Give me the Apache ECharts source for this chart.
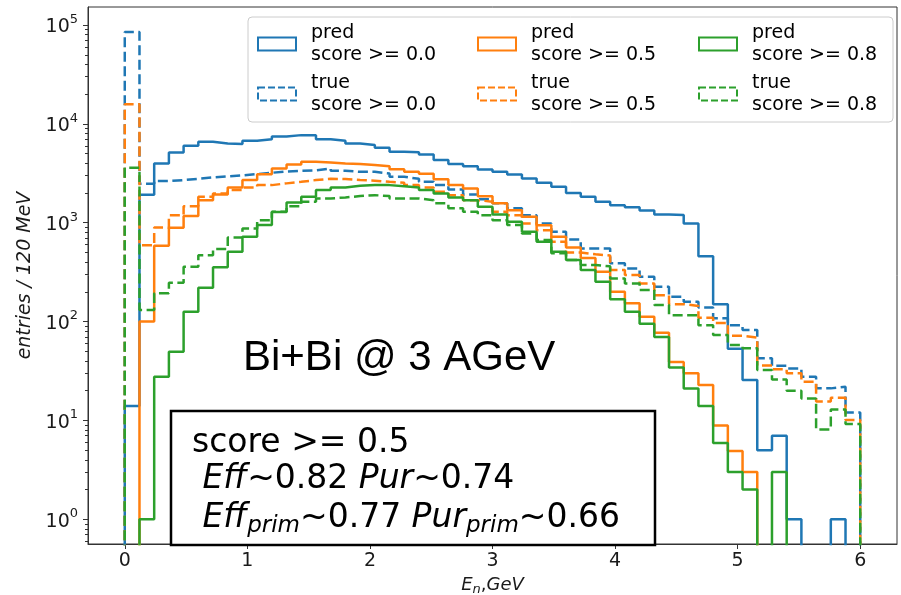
<!DOCTYPE html>
<html><head><meta charset="utf-8">
<script src="https://cdn.jsdelivr.net/npm/echarts@6/dist/echarts.min.js"></script>
<style>html,body{margin:0;padding:0;background:#fff}#c{width:901px;height:595px}</style>
</head><body><div id="c"></div>
<script>
// ---- data: 50 bins of 120 MeV from 0 to 6 GeV ----
const binWidth = 0.12;
const predScore00 = [14,1920,3980,5120,6000,6600,6330,6240,6740,6980,7450,7690,7690,7000,6740,6330,6100,5720,5210,5150,4900,4300,3920,3730,3460,3270,3080,2800,2540,2310,2000,1830,1630,1500,1430,1330,1210,1200,980,459,150,53,25.6,5,7,1,0,0,1,0];
const trueScore00 = [85100,2480,2640,2700,2780,2870,2940,3010,3100,3200,3300,3350,3390,3540,3350,3270,3270,3150,2910,2780,2590,2400,2170,1930,1730,1570,1400,1190,984,809,678,550,550,388,345,284,225,178,159,139,108,92,82,42.5,35.7,33.6,27.7,21.1,21.9,12];
const predScore05 = [0,100,585,890,1170,1690,1930,2270,2700,3100,3540,3880,4130,4070,3980,3920,3830,3730,3480,3270,3120,2750,2400,2220,1850,1570,1340,1150,940,720,560,440,319,200,153,112,77,39,30,22.8,8.9,4.9,3,0,0,0,0,0,0,0];
const trueScore05 = [15800,590,896,1190,1470,1830,1980,2140,2270,2400,2500,2590,2700,2780,2760,2700,2660,2590,2530,2400,2270,2060,1900,1690,1630,1290,1190,984,841,640,500,480,465,332,295,243,185,150,144,109,97,72,69,36,33,30,24.6,15.5,17,10.1];
const predScore08 = [0,1,27.7,49.5,126,220,355,508,720,950,1280,1600,1830,2140,2270,2360,2400,2400,2340,2270,2140,1980,1800,1690,1450,1210,1020,809,641,508,419,332,253,168,126,95,70,34.4,21,14,5.9,3,2,0,3,0,0,0,0,0];
const trueScore08 = [3590,131,193,247,358,470,541,710,875,1060,1290,1470,1630,1760,1800,1860,1900,1860,1760,1760,1690,1570,1400,1290,1190,1060,946,780,667,490,419,373,362,273,243,208,147,116,116,92,73,58,53.6,32.3,26,20,16.7,8.1,12.9,9.2];
const xTicks = [0,1,2,3,4,5,6];
const yExps = [0,1,2,3,4,5];
const seriesNames = ['pred score >= 0.0','true score >= 0.0','pred score >= 0.5','true score >= 0.5','pred score >= 0.8','true score >= 0.8'];

// ---- styling / layout ----
const colors = {b:'#1f77b4', o:'#ff7f0e', g:'#2ca02c'};
const FONT = 'DejaVu Sans';
const LOGMIN = -0.25, LOGMAX = 5.182;
const YMIN = Math.pow(10, LOGMIN), YMAX = Math.pow(10, LOGMAX);
const FLOOR = 1e-3;
const minorExps = [];
for (let e = -1; e <= 5; e++) for (let k = 2; k <= 9; k++) {
  const l = e + Math.log10(k);
  if (l > LOGMIN && l < LOGMAX) minorExps.push(l);
}

function steps(vals) {
  const pts = [[0, FLOOR]];
  vals.forEach((v, i) => {
    const y = v > 0 ? v : FLOOR;
    pts.push([+(i * binWidth).toFixed(2), y], [+((i + 1) * binWidth).toFixed(2), y]);
  });
  pts.push([+(vals.length * binWidth).toFixed(2), FLOOR]);
  return pts;
}
const DASH = [10, 4.5];
function mk(name, vals, color, dashed) {
  return {
    name, type: 'line', data: steps(vals), xAxisIndex: 0, yAxisIndex: 0,
    symbol: 'none', showSymbol: false, clip: true, animation: false, silent: true,
    lineStyle: {color, width: 2.5, type: dashed ? DASH : 'solid'},
    itemStyle: {color}
  };
}
const series = [
  mk(seriesNames[0], predScore00, colors.b, false),
  mk(seriesNames[1], trueScore00, colors.b, true),
  mk(seriesNames[2], predScore05, colors.o, false),
  mk(seriesNames[3], trueScore05, colors.o, true),
  mk(seriesNames[4], predScore08, colors.g, false),
  mk(seriesNames[5], trueScore08, colors.g, true),
];
const cols = [colors.b, colors.b, colors.o, colors.o, colors.g, colors.g];
function legendCol(c, left) {
  return {
    orient: 'vertical', left, top: 22, padding: 0, itemGap: 6,
    itemWidth: 38, itemHeight: 13, selectedMode: false, z: 10,
    data: [0, 1].map(r => {
      const idx = c * 2 + r;
      return {name: seriesNames[idx], icon: 'rect',
        itemStyle: {color: 'rgba(0,0,0,0)', borderColor: cols[idx], borderWidth: 2, borderType: r ? [7, 3] : 'solid'}};
    }),
    formatter: n => n.replace(' score', '\nscore'),
    textStyle: {fontSize: 19, fontFamily: FONT, color: '#000', lineHeight: 22, padding: [0, 0, 0, 10]}
  };
}
const axisLineStyle = {color: '#333', width: 1};
const txtColor = '#1a1a1a';

const option = {
  animation: false,
  backgroundColor: '#fff',
  grid: {left: 88, top: 7, right: 4, bottom: 51, show: true, borderColor: '#333', borderWidth: 1, containLabel: false, outerBoundsMode: 'none'},
  xAxis: [{
    type: 'value', min: -0.3, max: 6.3,
    axisLine: {show: true, onZero: false, lineStyle: axisLineStyle},
    axisTick: {show: true, customValues: xTicks, length: 5, lineStyle: axisLineStyle},
    axisLabel: {customValues: xTicks, fontSize: 19, fontFamily: FONT, color: txtColor, margin: 8},
    splitLine: {show: false},
    name: '{i|E}{s|n}{c|,}{i|GeV}', nameLocation: 'middle', nameGap: 30,
    nameTextStyle: {color: txtColor, rich: {
      i: {fontSize: 18, fontFamily: FONT, fontStyle: 'italic', lineHeight: 22, verticalAlign: 'middle', color: txtColor},
      c: {fontSize: 18, fontFamily: FONT, lineHeight: 22, verticalAlign: 'middle', color: txtColor},
      s: {fontSize: 13, fontFamily: FONT, fontStyle: 'italic', lineHeight: 13, verticalAlign: 'bottom', color: txtColor}
    }}
  }],
  yAxis: [
    {type: 'log', logBase: 10, min: YMIN, max: YMAX, show: false},
    {
      type: 'value', min: LOGMIN, max: LOGMAX, position: 'left',
      axisLine: {show: true, onZero: false, lineStyle: axisLineStyle},
      axisTick: {show: true, customValues: yExps, length: 5, lineStyle: axisLineStyle},
      axisLabel: {customValues: yExps, margin: 10, formatter: v => '{b|10}{s|' + Math.round(v) + '}',
        rich: {
          b: {fontSize: 19, fontFamily: FONT, color: txtColor, lineHeight: 24, verticalAlign: 'bottom'},
          s: {fontSize: 13, fontFamily: FONT, color: txtColor, lineHeight: 13, verticalAlign: 'top'}
        }},
      splitLine: {show: false},
      name: 'entries / 120 MeV', nameLocation: 'middle', nameRotate: 90, nameGap: 47,
      nameTextStyle: {fontSize: 19, fontFamily: FONT, fontStyle: 'italic', color: txtColor}
    },
    {
      type: 'value', min: LOGMIN, max: LOGMAX, position: 'left',
      axisLine: {show: false, onZero: false},
      axisTick: {show: true, customValues: minorExps, length: 3, lineStyle: axisLineStyle},
      axisLabel: {show: false}, splitLine: {show: false}
    }
  ],
  legend: [legendCol(0, 257), legendCol(1, 477), legendCol(2, 698)],
  graphic: {elements: [
    {type: 'rect', z: 5, shape: {x: 248, y: 17, width: 645, height: 105, r: 4},
      style: {fill: 'rgba(255,255,255,0.8)', stroke: '#cccccc', lineWidth: 1}},
    {type: 'text', z: 6, style: {x: 243, y: 358, text: 'Bi+Bi @ 3 AGeV', fontSize: 42, fontFamily: 'Liberation Sans', fill: '#000', verticalAlign: 'middle', align: 'left'}},
    {type: 'rect', z: 6, shape: {x: 171, y: 411, width: 484, height: 134},
      style: {fill: '#fff', stroke: '#000', lineWidth: 2.5}},
    {type: 'text', z: 7, style: {x: 192, y: 443, text: 'score >= 0.5', fontSize: 33, fontFamily: FONT, fill: '#000', verticalAlign: 'middle', align: 'left'}},
    {type: 'text', z: 7, style: {x: 192, y: 479, text: '{n| }{i|Eff}{n|~0.82 }{i|Pur}{n|~0.74}', fontSize: 33, fontFamily: FONT, fill: '#000', verticalAlign: 'middle', align: 'left',
      rich: {
        n: {fontSize: 33, fontFamily: FONT, lineHeight: 40, verticalAlign: 'middle', fill: '#000'},
        i: {fontSize: 33, fontFamily: FONT, fontStyle: 'italic', lineHeight: 40, verticalAlign: 'middle', fill: '#000'}
      }}},
    {type: 'text', z: 7, style: {x: 192, y: 518, text: '{n| }{i|Eff}{s|prim}{n|~0.77 }{i|Pur}{s|prim}{n|~0.66}', fontSize: 33, fontFamily: FONT, fill: '#000', verticalAlign: 'middle', align: 'left',
      rich: {
        n: {fontSize: 33, fontFamily: FONT, lineHeight: 40, verticalAlign: 'middle', fill: '#000'},
        i: {fontSize: 33, fontFamily: FONT, fontStyle: 'italic', lineHeight: 40, verticalAlign: 'middle', fill: '#000'},
        s: {fontSize: 23, fontFamily: FONT, fontStyle: 'italic', lineHeight: 23, verticalAlign: 'bottom', fill: '#000'}
      }}}
  ]},
  series
};
const chart = echarts.init(document.getElementById('c'), null, {renderer: 'canvas'});
chart.setOption(option);
</script></body></html>
